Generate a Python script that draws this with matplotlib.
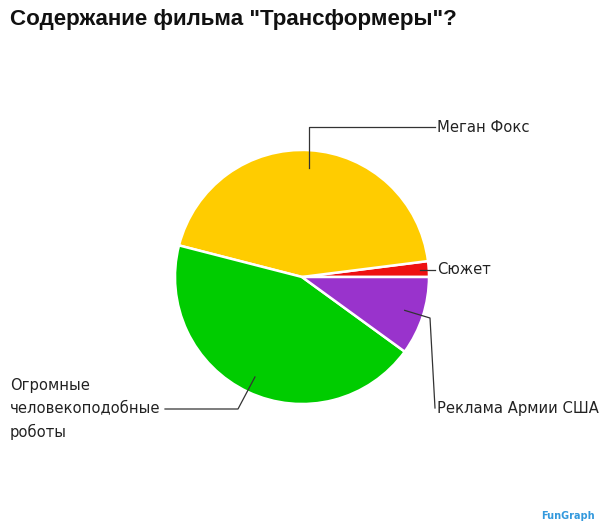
import numpy as np
import matplotlib
matplotlib.use("Agg")
import matplotlib.pyplot as plt

# DATA ---------------------------------------------------------------------------------------------
labels = ["Сюжет", "Меган Фокс", "Огромные\nчеловекоподобные\nроботы", "Реклама Армии США"]
shares = [2, 44, 44, 10]
colors = ["#EE1111", "#FFCC00", "#00CC00", "#9933CC"]
explode = [0, 0.04, 0, 0]

title = 'Содержание фильма "Трансформеры"?'

# LAYOUT (pixel coords, y up) ----------------------------------------------------------------------
W, H = 600, 530
cx, cy, R = 302, H - 277, 127

fig = plt.figure(figsize=(W / 100, H / 100), dpi=100)
ax = fig.add_axes([0, 0, 1, 1])

wedges, _ = ax.pie(shares, colors=colors, explode=explode, startangle=0, counterclock=True,
                   center=(cx, cy), radius=R, frame=True,
                   wedgeprops=dict(edgecolor="white", linewidth=1.8))
ax.set_xlim(0, W)
ax.set_ylim(0, H)
ax.set_aspect("equal")
ax.axis("off")


def anchor(w, frac):
    a = np.radians((w.theta1 + w.theta2) / 2)
    return cx + frac * R * np.cos(a), cy + frac * R * np.sin(a)


lc = "#333333"
lw = 0.9
tfont = dict(fontsize=10.6, family="DejaVu Sans", color="#222222")

# Сюжет
x0, y0 = anchor(wedges[0], 0.93)
ax.plot([x0, 435], [y0, y0], color=lc, lw=lw)
ax.text(437, y0, labels[0], ha="left", va="center", **tfont)

# Меган Фокс
x0, y0 = anchor(wedges[1], 0.86)
ty = H - 127
ax.plot([x0, x0, 435], [y0, ty, ty], color=lc, lw=lw)
ax.text(437, ty, labels[1], ha="left", va="center", **tfont)

# Роботы
x0, y0 = anchor(wedges[2], 0.87)
ty = H - 409
ax.plot([x0, 238, 165], [y0, ty, ty], color=lc, lw=lw)
ax.text(10, ty, labels[2], ha="left", va="center", linespacing=1.6, **tfont)

# Реклама
x0, y0 = anchor(wedges[3], 0.85)
ty = H - 408
ax.plot([x0, 430, 435], [y0, H - 318, ty], color=lc, lw=lw)
ax.text(437, ty, labels[3], ha="left", va="center", **tfont)

# title
ax.text(10, H - 20, title, ha="left", va="center", fontsize=16.1, fontweight="bold",
        family="Liberation Sans", color="#111111")

# watermark
ax.text(595, H - 516, "FunGraph", ha="right", va="center", fontsize=7, fontweight="bold",
        color="#3399DD", family="DejaVu Sans")

fig.savefig("out.png", dpi=100)
